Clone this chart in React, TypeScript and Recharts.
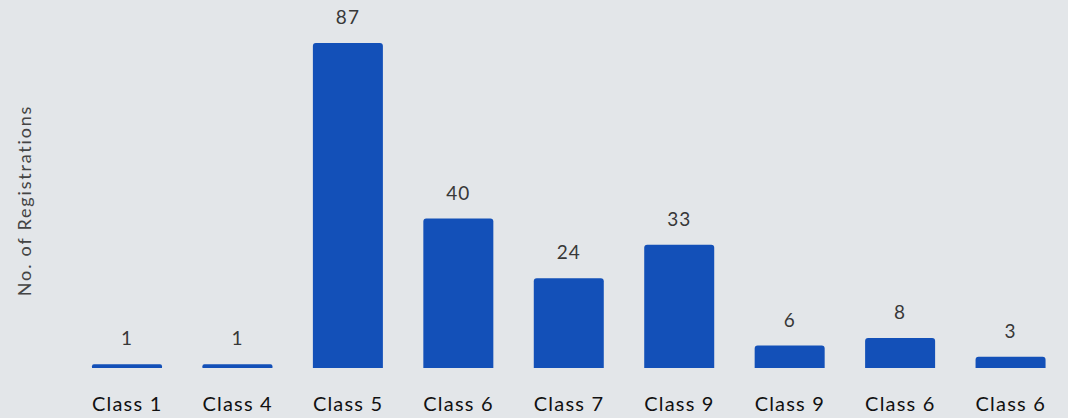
import React from 'react';
import { BarChart, Bar, XAxis, YAxis, LabelList } from 'recharts';

const CLASSES = ['Class 1', 'Class 4', 'Class 5', 'Class 6', 'Class 7', 'Class 9', 'Class 9', 'Class 6', 'Class 6'];
const REGISTRATIONS = [1, 1, 87, 40, 24, 33, 6, 8, 3];

const FONT = 'Lato, "Noto Sans", sans-serif';
const BLUE = '#1350b8';

const data = CLASSES.map((name, i) => ({ id: i, name, value: REGISTRATIONS[i] }));

function YLabel(props: any) {
  const { viewBox } = props;
  const x = viewBox.x + 24;
  const y = viewBox.y + viewBox.height / 2 - 5;
  return (
    <text
      x={x}
      y={y}
      transform={`rotate(-90 ${x} ${y})`}
      textAnchor="middle"
      dominantBaseline="central"
      fill="#444"
      fontSize={18}
      fontFamily={FONT}
      letterSpacing={1.8}
    >
      No. of Registrations
    </text>
  );
}

export default function App() {
  return (
    <div
      style={{
        position: 'fixed',
        top: 0,
        left: 0,
        width: 1068,
        height: 418,
        background: '#e3e6e9',
        fontFamily: FONT,
      }}
    >
      <BarChart width={1068} height={418} data={data} margin={{ top: 43, right: 2, left: 0, bottom: 0 }}>
        <XAxis
          dataKey="id"
          height={50}
          tickFormatter={(i: number) => CLASSES[i]}
          axisLine={false}
          tickLine={false}
          tickMargin={23}
          interval={0}
          tick={{ fontSize: 20, fill: '#111', fontFamily: FONT, letterSpacing: 1.2 }}
        />
        <YAxis
          width={72}
          domain={[0, 87]}
          tick={false}
          axisLine={false}
          tickLine={false}
          label={<YLabel />}
        />
        <Bar dataKey="value" fill={BLUE} barSize={70} radius={[3, 3, 0, 0]} isAnimationActive={false}>
          <LabelList
            dataKey="value"
            position="top"
            offset={19}
            fill="#383838"
            fontSize={19}
            fontFamily={FONT}
            letterSpacing={1}
          />
        </Bar>
      </BarChart>
    </div>
  );
}
